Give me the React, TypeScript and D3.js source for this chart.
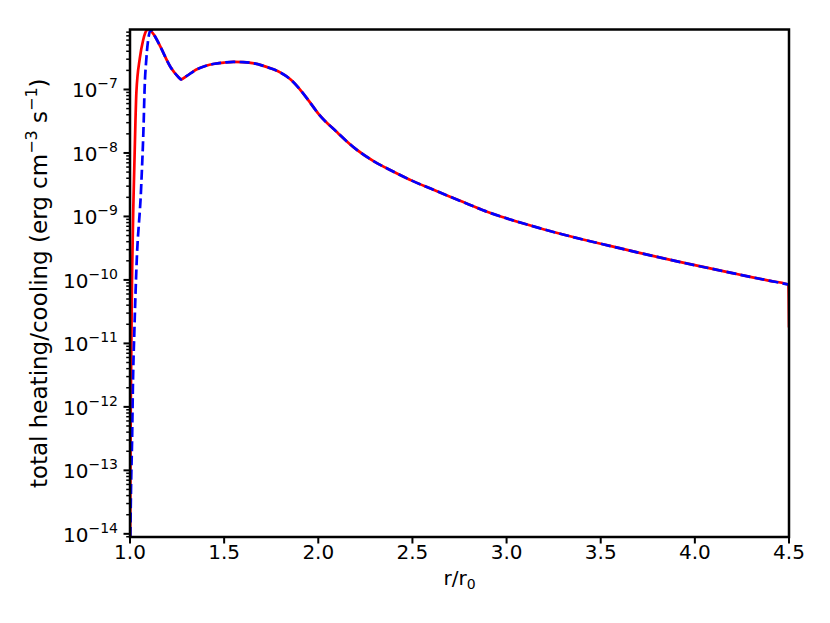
import React, { useRef, useEffect } from "react";
import * as d3 from "d3";

// values: r/r0 and log10 of total heating/cooling
const sharedR = [1.162, 1.215, 1.259, 1.27, 1.3, 1.35, 1.4, 1.45, 1.5, 1.55, 1.6, 1.65, 1.7, 1.75, 1.8, 1.85, 1.9, 1.95, 2.0, 2.1, 2.2, 2.3, 2.4, 2.5, 2.6, 2.7, 2.8, 2.9, 3.0, 3.1, 3.2, 3.3, 3.4, 3.5, 3.6, 3.7, 3.8, 3.9, 4.0, 4.1, 4.2, 4.3, 4.4, 4.486];
const sharedLog = [-6.33, -6.645, -6.81, -6.84, -6.79, -6.69, -6.63, -6.595, -6.576, -6.566, -6.568, -6.585, -6.62, -6.67, -6.735, -6.835, -6.99, -7.18, -7.38, -7.675, -7.94, -8.14, -8.295, -8.44, -8.565, -8.69, -8.81, -8.93, -9.03, -9.12, -9.205, -9.285, -9.36, -9.43, -9.5, -9.57, -9.638, -9.704, -9.768, -9.83, -9.893, -9.955, -10.015, -10.066];

const redR = [1.0, 1.004, 1.0117, 1.0185, 1.029, 1.034, 1.052, 1.07, 1.088, 1.1, 1.112, 1.13];
const redLog = [-14.5, -12.0, -9.79, -8.74, -7.49, -7.04, -6.51, -6.22, -6.07, -6.05, -6.08, -6.15];
const redTailR = [4.497, 4.5];
const redTailLog = [-10.08, -10.75];

const blueR = [1.0, 1.005, 1.0117, 1.0148, 1.0238, 1.0344, 1.0594, 1.073, 1.077, 1.087, 1.1, 1.109, 1.13];
const blueLog = [-14.5, -13.36, -12.41, -11.78, -10.74, -9.79, -8.53, -7.48, -7.04, -6.51, -6.15, -6.06, -6.15];
const blueTailR = [4.5];
const blueTailLog = [-10.075];

const xTicks = [1.0, 1.5, 2.0, 2.5, 3.0, 3.5, 4.0, 4.5];
const yDecades = [-14, -13, -12, -11, -10, -9, -8, -7];

function App() {
  const canvas = useRef(null);

  useEffect(() => {
    document.body.style.margin = "0";
    const [width, height] = [830, 623];
    const margin = { top: 29.5, right: 41, bottom: 86, left: 130 };

    const svg = d3.select(canvas.current).attr("width", width).attr("height", height);
    svg.selectAll("*").remove();

    const xScale = d3.scaleLinear().domain([1.0, 4.5]).range([margin.left, width - margin.right]);
    const yScale = d3
      .scaleLog()
      .domain([Math.pow(10, -14.05), Math.pow(10, -6.055)])
      .range([height - margin.bottom, margin.top]);

    const toPts = (rs, ls) => rs.map((r, i) => ({ r, v: Math.pow(10, ls[i]) }));
    const red = [...toPts(redR, redLog), ...toPts(sharedR, sharedLog), ...toPts(redTailR, redTailLog)];
    const blue = [...toPts(blueR, blueLog), ...toPts(sharedR, sharedLog), ...toPts(blueTailR, blueTailLog)];

    svg
      .append("clipPath")
      .attr("id", "plotclip")
      .append("rect")
      .attr("x", margin.left)
      .attr("y", margin.top)
      .attr("width", width - margin.left - margin.right)
      .attr("height", height - margin.top - margin.bottom);

    const line = d3
      .line()
      .x((d) => xScale(d.r))
      .y((d) => yScale(d.v))
      .curve(d3.curveMonotoneX);

    const gLines = svg.append("g").attr("clip-path", "url(#plotclip)");
    gLines
      .append("path")
      .attr("d", line(red))
      .attr("fill", "none")
      .attr("stroke", "#ff0000")
      .attr("stroke-width", 2.7);
    gLines
      .append("path")
      .attr("d", line(blue))
      .attr("fill", "none")
      .attr("stroke", "#0000ff")
      .attr("stroke-width", 2.7)
      .attr("stroke-dasharray", "10,4.3");

    const font = "DejaVu Sans, sans-serif";
    const bottom = height - margin.bottom;

    // x ticks
    const gx = svg.append("g");
    gx.selectAll("line")
      .data(xTicks)
      .join("line")
      .attr("x1", (d) => xScale(d))
      .attr("x2", (d) => xScale(d))
      .attr("y1", bottom)
      .attr("y2", bottom + 6.5)
      .attr("stroke", "black")
      .attr("stroke-width", 2);
    gx.selectAll("text")
      .data(xTicks)
      .join("text")
      .attr("x", (d) => xScale(d))
      .attr("y", bottom + 22)
      .attr("text-anchor", "middle")
      .attr("font-family", font)
      .attr("font-size", 20)
      .text((d) => d.toFixed(1));

    // y ticks (major + minor)
    const minor = [];
    yDecades.forEach((k) => {
      for (let m = 2; m <= 9; m++) minor.push(m * Math.pow(10, k));
    });
    minor.push(Math.pow(10, -15) * 9);
    const gy = svg.append("g");
    gy.selectAll(".minor")
      .data(minor.filter((v) => v >= yScale.domain()[0] && v <= yScale.domain()[1]))
      .join("line")
      .attr("x1", margin.left - 3.8)
      .attr("x2", margin.left)
      .attr("y1", (d) => yScale(d))
      .attr("y2", (d) => yScale(d))
      .attr("stroke", "black")
      .attr("stroke-width", 1.5);
    gy.selectAll(".major")
      .data(yDecades)
      .join("line")
      .attr("x1", margin.left - 6.5)
      .attr("x2", margin.left)
      .attr("y1", (d) => yScale(Math.pow(10, d)))
      .attr("y2", (d) => yScale(Math.pow(10, d)))
      .attr("stroke", "black")
      .attr("stroke-width", 2);
    const labels = gy
      .selectAll("text")
      .data(yDecades)
      .join("text")
      .attr("x", margin.left - 12)
      .attr("y", (d) => yScale(Math.pow(10, d)) + 8)
      .attr("text-anchor", "end")
      .attr("font-family", font)
      .attr("font-size", 20);
    labels.append("tspan").text("10");
    labels
      .append("tspan")
      .attr("dy", -9)
      .attr("font-size", 14)
      .text((d) => "\u2212" + Math.abs(d));

    // spines
    svg
      .append("rect")
      .attr("x", margin.left)
      .attr("y", margin.top)
      .attr("width", width - margin.left - margin.right)
      .attr("height", height - margin.top - margin.bottom)
      .attr("fill", "none")
      .attr("stroke", "black")
      .attr("stroke-width", 2.5);

    // axis labels
    const xl = svg
      .append("text")
      .attr("x", (margin.left + width - margin.right) / 2)
      .attr("y", bottom + 48)
      .attr("text-anchor", "middle")
      .attr("font-family", font)
      .attr("font-size", 20);
    xl.append("tspan").text("r/r");
    xl.append("tspan").attr("dy", 4).attr("font-size", 14).text("0");

    const yl = svg
      .append("text")
      .attr("transform", `translate(47, ${(margin.top + bottom) / 2}) rotate(-90)`)
      .attr("text-anchor", "middle")
      .attr("font-family", font)
      .attr("font-size", 23);
    yl.append("tspan").text("total heating/cooling (erg cm");
    yl.append("tspan").attr("dy", -10).attr("font-size", 16).text("\u22123");
    yl.append("tspan").attr("dy", 10).text(" s");
    yl.append("tspan").attr("dy", -10).attr("font-size", 16).text("\u22121");
    yl.append("tspan").attr("dy", 10).text(")");
  }, []);

  return <svg ref={canvas} style={{ display: "block" }} />;
}

export default App;
